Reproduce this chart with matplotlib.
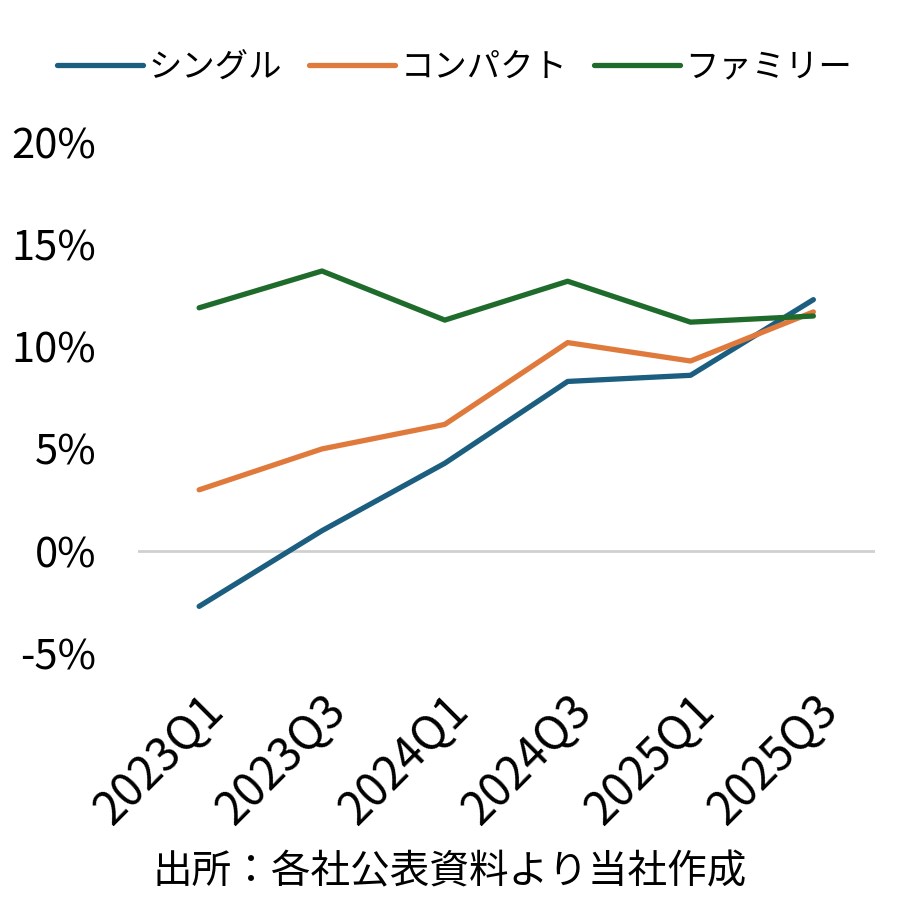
import matplotlib
matplotlib.use("Agg")
import matplotlib.pyplot as plt
from matplotlib.ticker import FuncFormatter

plt.rcParams['font.family'] = ['Noto Sans CJK JP', 'DejaVu Sans']

# data (growth rate, %)
periods = ["2023Q1", "2023Q3", "2024Q1", "2024Q3", "2025Q1", "2025Q3"]
single = [-2.7, 1.0, 4.3, 8.3, 8.6, 12.3]
compact = [3.0, 5.0, 6.2, 10.2, 9.3, 11.7]
family = [11.9, 13.7, 11.3, 13.2, 11.2, 11.5]

names = ["シングル", "コンパクト", "ファミリー"]
colors = ["#1b5e80", "#e07a3c", "#1f6b2b"]

fig = plt.figure(figsize=(9, 9), dpi=100)
ax = fig.add_axes([0.153, 0.274, 0.819, 0.568])

x = range(len(periods))
for vals, name, c in zip([single, compact, family], names, colors):
    ax.plot(x, vals, color=c, lw=3.8, label=name, solid_capstyle="round")

ax.axhline(0, color="#d0d0d0", lw=2, zorder=0)
ax.set_xlim(-0.5, len(periods) - 0.5)
ax.set_ylim(-5, 20)
ax.set_yticks([-5, 0, 5, 10, 15, 20])
ax.yaxis.set_major_formatter(FuncFormatter(lambda v, p: "%d%%" % v))
ax.set_xticks(list(x))
ax.set_xticklabels(periods, rotation=45, ha="right", va="top", rotation_mode="anchor")
ax.tick_params(axis="y", length=0, labelsize=30, pad=30)
ax.tick_params(axis="x", length=0, labelsize=33, pad=24)
for s in ax.spines.values():
    s.set_visible(False)

fig.legend(loc="upper center", bbox_to_anchor=(0.505, 0.978), ncol=3, frameon=False,
           fontsize=24, handlelength=2.6, handletextpad=0.15, columnspacing=0.8)

fig.text(0.5, 0.031, "出所：各社公表資料より当社作成", ha="center", va="center", fontsize=28.5)

plt.savefig("out.png", format="png")
